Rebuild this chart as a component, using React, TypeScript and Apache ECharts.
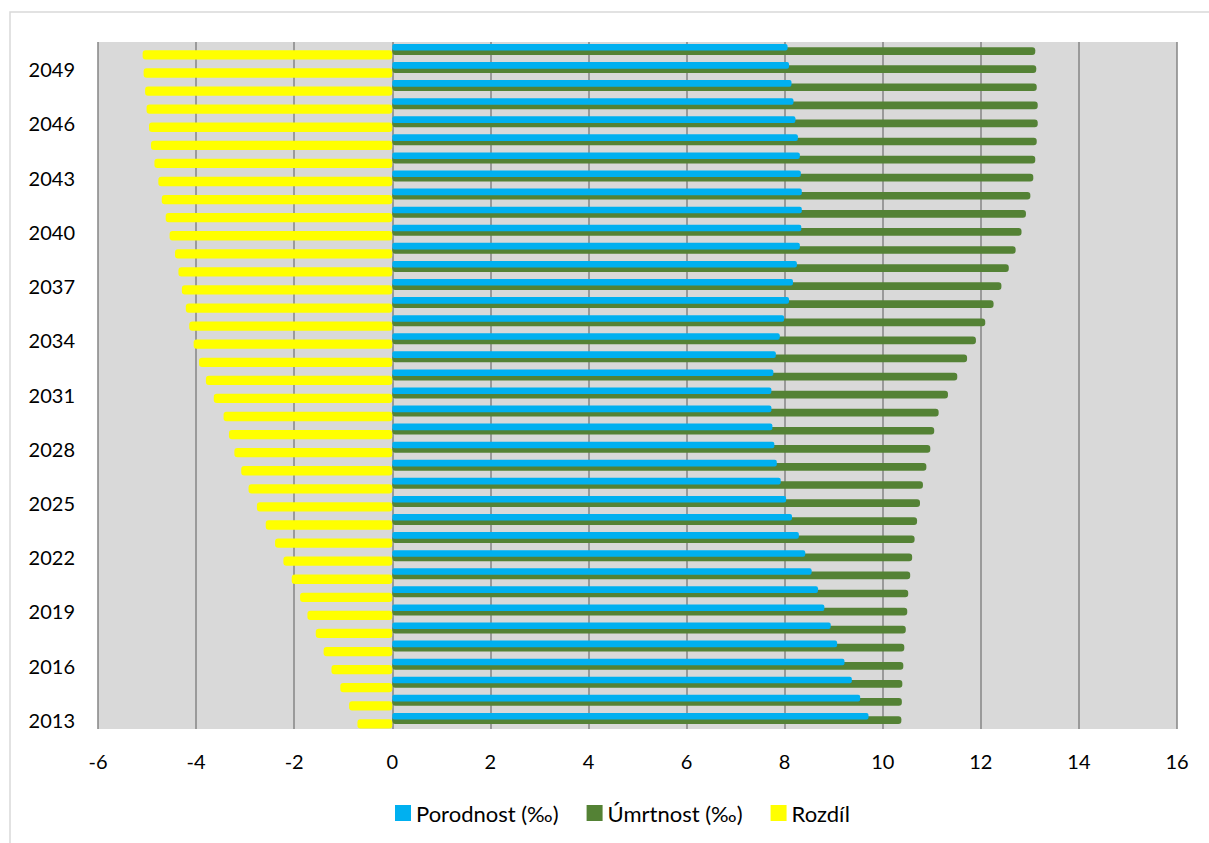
import React, { useEffect, useRef } from "react";
import * as echarts from "echarts";

const years = [
  "2013", "2014", "2015", "2016", "2017", "2018", "2019", "2020", "2021", "2022",
  "2023", "2024", "2025", "2026", "2027", "2028", "2029", "2030", "2031", "2032",
  "2033", "2034", "2035", "2036", "2037", "2038", "2039", "2040", "2041", "2042",
  "2043", "2044", "2045", "2046", "2047", "2048", "2049", "2050",
];

const porodnost = [
  9.71, 9.54, 9.37, 9.22, 9.07, 8.94, 8.81, 8.68, 8.55, 8.42,
  8.29, 8.15, 8.03, 7.92, 7.84, 7.79, 7.75, 7.73, 7.73, 7.77,
  7.82, 7.9, 7.99, 8.09, 8.17, 8.25, 8.31, 8.34, 8.35, 8.35,
  8.33, 8.31, 8.27, 8.22, 8.18, 8.14, 8.09, 8.06,
];

const umrtnost = [
  10.38, 10.39, 10.4, 10.42, 10.44, 10.47, 10.5, 10.52, 10.56, 10.6,
  10.65, 10.7, 10.76, 10.82, 10.89, 10.97, 11.05, 11.14, 11.33, 11.52,
  11.72, 11.9, 12.09, 12.26, 12.42, 12.57, 12.71, 12.83, 12.92, 13.01,
  13.07, 13.11, 13.14, 13.16, 13.16, 13.14, 13.13, 13.11,
];

const rozdil = [
  -0.71, -0.88, -1.06, -1.24, -1.4, -1.56, -1.73, -1.88, -2.05, -2.22,
  -2.39, -2.58, -2.76, -2.93, -3.08, -3.22, -3.33, -3.44, -3.64, -3.8,
  -3.94, -4.05, -4.14, -4.21, -4.29, -4.36, -4.43, -4.54, -4.62, -4.7,
  -4.77, -4.85, -4.92, -4.96, -5.01, -5.04, -5.07, -5.09,
];

const seriesNames = ["Porodnost (‰)", "Úmrtnost (‰)", "Rozdíl"];
const X_MIN = -6;
const X_MAX = 16;
const X_STEP = 2;

export default function App() {
  const ref = useRef<HTMLDivElement>(null);

  useEffect(() => {
    if (!ref.current) return;
    const chart = echarts.init(ref.current, null, { renderer: "svg" });
    const font = "Lato, 'Noto Sans', sans-serif";
    const empty = years.map(() => null);

    chart.setOption({
      animation: false,
      backgroundColor: "#ffffff",
      graphic: [
        {
          type: "rect",
          shape: { x: 10, y: 12, width: 1400, height: 1000 },
          style: { fill: "none", stroke: "#d9d9d9", lineWidth: 1.5 },
          silent: true,
          z: -10,
        },
      ],
      grid: {
        left: 98,
        right: 32,
        top: 42,
        bottom: 114,
        show: true,
        backgroundColor: "#D9D9D9",
        borderWidth: 0,
        containLabel: false,
      },
      legend: {
        data: seriesNames,
        left: 390,
        top: 797,
        itemWidth: 16,
        itemHeight: 16,
        itemGap: 28,
        icon: "rect",
        textStyle: { fontFamily: font, fontSize: 22, color: "#000" },
      },
      xAxis: {
        type: "value",
        min: X_MIN,
        max: X_MAX,
        interval: X_STEP,
        axisLine: { show: false },
        axisTick: { show: false },
        axisLabel: { fontFamily: font, fontSize: 20, color: "#000", margin: 22 },
        splitLine: { show: true, lineStyle: { color: "#858585", width: 1.5 } },
      },
      yAxis: [
        {
          type: "category",
          data: years,
          axisLine: { show: false },
          axisTick: { show: false },
          axisLabel: { interval: 2, fontFamily: font, fontSize: 20, color: "#000", margin: 23 },
          splitLine: { show: false },
        },
        {
          type: "category",
          data: years,
          show: false,
        },
      ],
      series: [
        {
          name: seriesNames[0],
          type: "bar",
          yAxisIndex: 0,
          data: porodnost,
          barWidth: 6.6,
          barGap: "-50%",
          z: 4,
          itemStyle: { color: "#00B0F0", borderRadius: 2 },
        },
        {
          name: seriesNames[1],
          type: "bar",
          yAxisIndex: 0,
          data: umrtnost,
          barWidth: 7.7,
          barGap: "-50%",
          z: 3,
          itemStyle: { color: "#548235", borderRadius: 3 },
        },
        {
          name: "_pad0",
          type: "bar",
          yAxisIndex: 0,
          data: empty,
          barWidth: 7,
          barGap: "-50%",
          silent: true,
          itemStyle: { color: "transparent" },
        },
        {
          name: "_pad1",
          type: "bar",
          yAxisIndex: 1,
          data: empty,
          barWidth: 7.8,
          barGap: "0%",
          silent: true,
          itemStyle: { color: "transparent" },
        },
        {
          name: seriesNames[2],
          type: "bar",
          yAxisIndex: 1,
          data: rozdil,
          barWidth: 9.3,
          barGap: "0%",
          z: 3,
          itemStyle: { color: "#FFFF00", borderRadius: 3 },
        },
      ],
    });

    return () => chart.dispose();
  }, []);

  return (
    <div
      ref={ref}
      style={{ position: "fixed", left: 0, top: 0, width: 1209, height: 843 }}
    />
  );
}
